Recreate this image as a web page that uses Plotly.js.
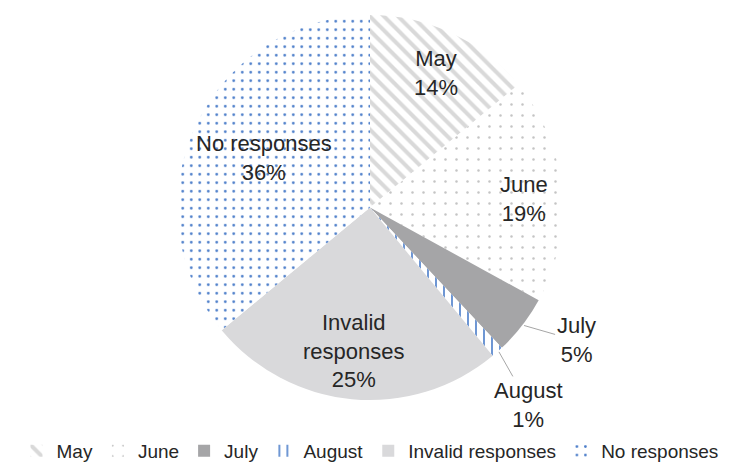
<!DOCTYPE html>
<html><head><meta charset="utf-8">
<script src="https://cdn.plot.ly/plotly-3.0.1.min.js"></script>
<style>body{margin:0;background:#fff}#c{width:738px;height:470px}</style>
</head><body><div id="c"></div>
<script>
const categories = ["May", "June", "July", "August", "Invalid responses", "No responses"];
const values = [14, 19, 5, 1, 25, 36];
const textLabels = ["May", "June", "July", "August", "Invalid<br>responses", "No responses"];

// label placement style (radius fraction, angle offset deg, outside offset px)
const labelRadius = [0.775, 0.79, 1.0, 1.0, 0.75, 0.6];
const labelAngleOffset = [0.7, 2.1, 0, 0, 0.9, 0];
const labelOutside = [null, null, [52, 15], [30, 53], null, null];

const W = 738, H = 470;
const M = {l: 2, r: 0, t: 15, b: 65};
const plotW = W - M.l - M.r, plotH = H - M.t - M.b;
const R = Math.min(plotW, plotH) / 2;

const FONT = "Liberation Sans, Arial, sans-serif";
const TXT = "#262626";

const total = values.reduce((a, b) => a + b, 0);
let cum = 0;
const annotations = [];
values.forEach((v, i) => {
  const mid = (cum + v / 2) / total * 360;
  cum += v;
  const ang = (mid + labelAngleOffset[i]) * Math.PI / 180;
  const r = R * labelRadius[i];
  const x = 0.5 + r * Math.sin(ang) / plotW;
  const y = 0.5 + r * Math.cos(ang) / plotH;
  const pct = Math.round(v / total * 100) + "%";
  const a = {
    xref: "paper", yref: "paper", x: x, y: y,
    text: textLabels[i] + "<br>" + pct,
    font: {family: FONT, size: 22, color: TXT},
    showarrow: false, xanchor: "center", yanchor: "middle"
  };
  if (labelOutside[i]) {
    a.showarrow = true;
    a.arrowhead = 0;
    a.arrowwidth = 1;
    a.arrowcolor = "#a6a6a6";
    a.ax = labelOutside[i][0];
    a.ay = labelOutside[i][1];
    a.standoff = 0;
  }
  annotations.push(a);
});

const trace = {
  type: "pie",
  labels: categories,
  values: values,
  sort: false,
  direction: "clockwise",
  rotation: 0,
  textinfo: "none",
  hoverinfo: "label+percent",
  marker: {
    colors: ["#ffffff", "#ffffff", "#a5a5a7", "#ffffff", "#d9d9db", "#ffffff"],
    line: {width: 0, color: "#ffffff"},
    pattern: {
      shape: ["\\", ".", "", "|", "", "."],
      fgcolor: ["#d9d9d9", "#c4c4c4", "#a5a5a7", "#4a7cc9", "#d9d9db", "#4a7cc9"],
      bgcolor: ["#ffffff", "#ffffff", "#a5a5a7", "#ffffff", "#d9d9db", "#ffffff"],
      size: [10, 11, 8, 8, 8, 8.5],
      solidity: [0.4, 0.04, 0.3, 0.2, 0.3, 0.08],
      fillmode: "replace"
    }
  },
  domain: {x: [0, 1], y: [0, 1]}
};

const layout = {
  width: W, height: H,
  margin: M,
  paper_bgcolor: "#ffffff",
  showlegend: true,
  legend: {
    orientation: "h", x: 0.5, xanchor: "center", y: -0.133, yanchor: "middle",
    font: {family: FONT, size: 19, color: TXT},
    itemwidth: 30
  },
  annotations: annotations,
  font: {family: FONT}
};

Plotly.newPlot("c", [trace], layout, {displayModeBar: false, staticPlot: true});
</script></body></html>
